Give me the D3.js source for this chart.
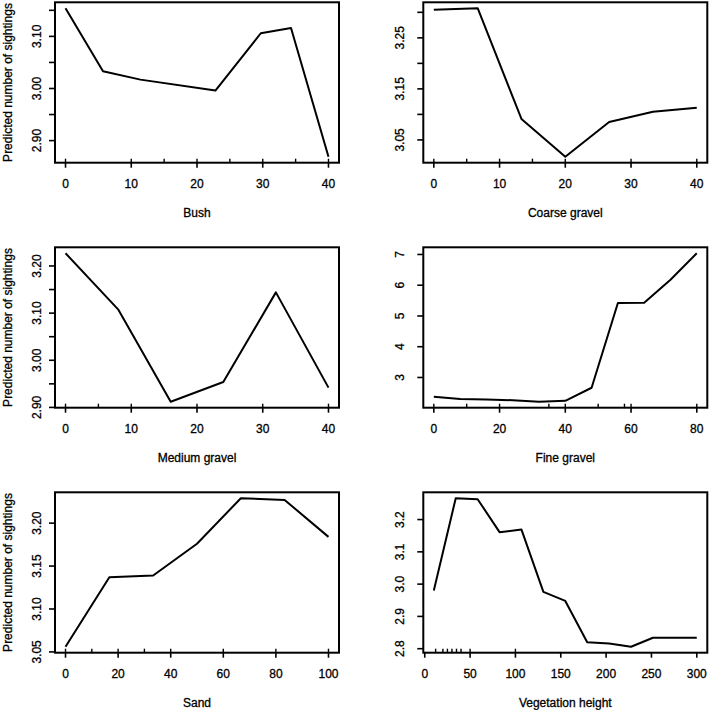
<!DOCTYPE html>
<html>
<head>
<meta charset="utf-8">
<script src="https://cdn.jsdelivr.net/npm/d3@7"></script>
<style>
    body { margin: 0; background: #fff; }
    text { font-family: "Liberation Sans", Arial, sans-serif; fill: #000; stroke: #000; stroke-width: 0.3px; }
</style>
</head>
<body>
<svg id="chart" width="709" height="710"></svg>
<script>
// partial dependence curves
var bushX = [0, 5.7, 11.4, 22.8, 29.7, 34.3, 40];
var bushY = [3.154, 3.033, 3.017, 2.996, 3.106, 3.116, 2.869];
var bushRug = [0, 10, 15, 20, 25, 30, 35, 40];

var coarseX = [0, 6.67, 13.33, 20, 26.67, 33.33, 40];
var coarseY = [3.305, 3.308, 3.091, 3.017, 3.085, 3.105, 3.113];
var coarseRug = [0, 5, 10, 15, 20, 30, 40];

var mediumX = [0, 8, 16, 24, 32, 40];
var mediumY = [3.227, 3.108, 2.912, 2.954, 3.144, 2.942];
var mediumRug = [0, 5, 10, 20, 30, 40];

var fineX = [0, 8, 16, 24, 32, 40, 48, 56, 64, 72, 80];
var fineY = [2.37, 2.30, 2.28, 2.26, 2.21, 2.24, 2.665, 5.42, 5.43, 6.18, 7.04];
var fineRug = [0, 10, 20, 35, 40, 50, 58, 60, 80];

var sandX = [0, 16.67, 33.33, 50, 66.67, 83.33, 100];
var sandY = [3.056, 3.137, 3.139, 3.176, 3.229, 3.227, 3.184];
var sandRug = [0, 10, 20, 30, 40, 60, 80, 100];

var vegX = [10, 34.17, 58.33, 82.5, 106.67, 130.83, 155, 179.17, 203.33, 227.5, 251.67, 275.83, 300];
var vegY = [2.980, 3.266, 3.263, 3.161, 3.169, 2.976, 2.948, 2.820, 2.816, 2.806, 2.834, 2.834, 2.834];
var vegRug = [12, 20, 25, 30, 35, 40, 50, 100];

// axis ticks; y labels only where R had room to draw them
var bushXTicks = [0, 10, 20, 30, 40];
var bushYTicks = [2.90, 2.95, 3.00, 3.05, 3.10, 3.15];
var bushYLabels = ["2.90", "", "3.00", "", "3.10", ""];

var coarseXTicks = [0, 10, 20, 30, 40];
var coarseYTicks = [3.05, 3.10, 3.15, 3.20, 3.25, 3.30];
var coarseYLabels = ["3.05", "", "3.15", "", "3.25", ""];

var mediumXTicks = [0, 10, 20, 30, 40];
var mediumYTicks = [2.90, 2.95, 3.00, 3.05, 3.10, 3.15, 3.20];
var mediumYLabels = ["2.90", "", "3.00", "", "3.10", "", "3.20"];

var fineXTicks = [0, 20, 40, 60, 80];
var fineYTicks = [3, 4, 5, 6, 7];
var fineYLabels = ["3", "4", "5", "6", "7"];

var sandXTicks = [0, 20, 40, 60, 80, 100];
var sandYTicks = [3.05, 3.10, 3.15, 3.20];
var sandYLabels = ["3.05", "3.10", "3.15", "3.20"];

var vegXTicks = [0, 50, 100, 150, 200, 250, 300];
var vegYTicks = [2.8, 2.9, 3.0, 3.1, 3.2];
var vegYLabels = ["2.8", "2.9", "3.0", "3.1", "3.2"];

var titles = ["Bush", "Coarse gravel", "Medium gravel", "Fine gravel", "Sand", "Vegetation height"];
var yTitle = "Predicted number of sightings";

var panels = [
    { x: bushX, y: bushY, rug: bushRug, xt: bushXTicks, yt: bushYTicks, yl: bushYLabels },
    { x: coarseX, y: coarseY, rug: coarseRug, xt: coarseXTicks, yt: coarseYTicks, yl: coarseYLabels },
    { x: mediumX, y: mediumY, rug: mediumRug, xt: mediumXTicks, yt: mediumYTicks, yl: mediumYLabels },
    { x: fineX, y: fineY, rug: fineRug, xt: fineXTicks, yt: fineYTicks, yl: fineYLabels },
    { x: sandX, y: sandY, rug: sandRug, xt: sandXTicks, yt: sandYTicks, yl: sandYLabels },
    { x: vegX, y: vegY, rug: vegRug, xt: vegXTicks, yt: vegYTicks, yl: vegYLabels }
];

// plot region geometry (px)
var colLeft = [55, 423.3];
var colWidth = 284;
var rowTop = [2.3, 247.3, 492.3];
var rowHeight = 160.4;
var yLabelGap = [18.5, 23];

var svg = d3.select("#chart");

// R pads the data range by 4% on each side
function rDomain(values) {
    var lo = d3.min(values), hi = d3.max(values);
    var pad = (hi - lo) * 0.04;
    return [lo - pad, hi + pad];
}

panels.forEach(function (p, i) {
    var col = i % 2, row = Math.floor(i / 2);
    var left = colLeft[col], top = rowTop[row];
    var right = left + colWidth, bottom = top + rowHeight;

    var xScale = d3.scaleLinear().domain(rDomain(p.x)).range([left, right]);
    var yScale = d3.scaleLinear().domain(rDomain(p.y)).range([bottom, top]);

    var g = svg.append("g");

    // x axis: ticks point outwards
    g.selectAll("line.xt")
        .data(p.xt)
      .enter()
      .append("line")
        .attr("x1", function (d) { return xScale(d); })
        .attr("x2", function (d) { return xScale(d); })
        .attr("y1", bottom)
        .attr("y2", bottom + 5)
        .style("stroke", "#000")
        .style("stroke-width", "1.6px");

    g.selectAll("text.xt")
        .data(p.xt)
      .enter()
      .append("text")
        .attr("x", function (d) { return xScale(d); })
        .attr("y", bottom + 21.5)
        .attr("text-anchor", "middle")
        .attr("dominant-baseline", "central")
        .style("font-size", "12px")
        .text(function (d) { return d; });

    // rug of the predictor distribution, drawn inside the box
    g.selectAll("line.rug")
        .data(p.rug)
      .enter()
      .append("line")
        .attr("x1", function (d) { return xScale(d); })
        .attr("x2", function (d) { return xScale(d); })
        .attr("y1", bottom)
        .attr("y2", bottom - 4)
        .style("stroke", "#000")
        .style("stroke-width", "1.4px");

    // y axis
    g.selectAll("line.yt")
        .data(p.yt)
      .enter()
      .append("line")
        .attr("x1", left)
        .attr("x2", left - 6)
        .attr("y1", function (d) { return yScale(d); })
        .attr("y2", function (d) { return yScale(d); })
        .style("stroke", "#000")
        .style("stroke-width", "1.6px");

    g.selectAll("text.yt")
        .data(p.yt.map(function (v, k) { return { v: v, label: p.yl[k] }; })
                  .filter(function (d) { return d.label !== ""; }))
      .enter()
      .append("text")
        .attr("transform", function (d) {
            return "translate(" + (left - yLabelGap[col]) + "," + yScale(d.v) + ") rotate(-90)";
        })
        .attr("text-anchor", "middle")
        .attr("dominant-baseline", "central")
        .style("font-size", "12px")
        .text(function (d) { return d.label; });

    // the curve
    var line = d3.line()
        .x(function (d) { return xScale(d[0]); })
        .y(function (d) { return yScale(d[1]); });

    g.append("path")
        .datum(d3.zip(p.x, p.y))
        .attr("d", line)
        .style("fill", "none")
        .style("stroke", "#000")
        .style("stroke-width", "2px")
        .style("stroke-linejoin", "round");

    // box
    g.append("rect")
        .attr("x", left)
        .attr("y", top)
        .attr("width", colWidth)
        .attr("height", rowHeight)
        .style("fill", "none")
        .style("stroke", "#000")
        .style("stroke-width", "2px");

    g.append("text")
        .attr("x", (left + right) / 2)
        .attr("y", bottom + 50)
        .attr("text-anchor", "middle")
        .attr("dominant-baseline", "central")
        .style("font-size", "12px")
        .text(titles[i]);

    if (col === 0) {
        g.append("text")
            .attr("transform", "translate(7.5," + ((top + bottom) / 2) + ") rotate(-90)")
            .attr("text-anchor", "middle")
            .attr("dominant-baseline", "central")
            .style("font-size", "12px")
            .text(yTitle);
    }
});
</script>
</body>
</html>
